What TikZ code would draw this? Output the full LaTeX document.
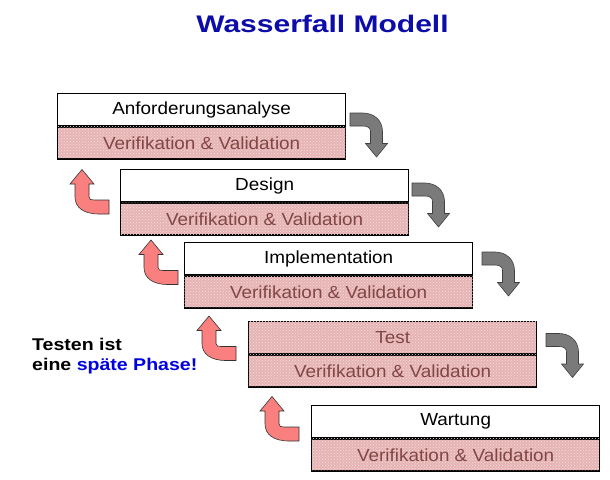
\documentclass[tikz,border=0pt]{standalone}
\usepackage{fontspec}
\setmainfont{Liberation Sans}
\newfontfamily\boxfont[FakeStretch=1.08]{Liberation Sans}
\newfontfamily\headfont[FakeStretch=1.25]{Liberation Sans}
\newfontfamily\notefont[FakeStretch=1.15]{Liberation Sans}
\usetikzlibrary{patterns}

\definecolor{titleblue}{RGB}{12,12,170}
\definecolor{phaseblue}{RGB}{0,0,225}
\definecolor{vvpink}{RGB}{230,180,180}
\definecolor{vvtext}{RGB}{130,70,70}
\definecolor{arrowgray}{RGB}{122,122,122}
\definecolor{arrowsalmon}{RGB}{250,128,128}

\tikzset{
  phasebox/.style={draw=black, line width=1.3pt, minimum width=288pt,
    minimum height=32pt, inner sep=0pt, anchor=north west,
    font=\boxfont\fontsize{17.5}{20}\selectfont},
  vvbox/.style={phasebox, fill=vvpink, text=vvtext,
    postaction={pattern=crosshatch dots, pattern color=white!55!vvpink}},
  % grey arrow: runs right, then bends down to the next phase
  nextarrow/.pic={
    \path[fill=arrowgray, draw=black!75, line width=0.6pt]
      (0,-6.5) -- (13,-6.5) .. controls (23,-6.5) and (32.5,0) .. (32.5,12)
      -- (32.5,24) -- (37.5,24) -- (26.5,37.5) -- (15.5,24) -- (20.5,24)
      -- (20.5,12) .. controls (20.5,8.5) and (18,6.5) .. (13,6.5)
      -- (0,6.5) -- cycle;
  },
  % salmon arrow: runs left, then bends up to the previous phase
  backarrow/.pic={
    \path[fill=arrowsalmon, draw=black!80, line width=0.6pt]
      (0,7) -- (-10,7) .. controls (-26,7) and (-34,0) .. (-34,-10)
      -- (-34,-23) -- (-39,-23) -- (-27,-37.5) -- (-15,-23) -- (-20,-23)
      -- (-20,-10) .. controls (-20,-7.5) and (-18,-7) .. (-15,-7)
      -- (0,-7) -- cycle;
  }
}

\begin{document}
\begin{tikzpicture}[x=1pt, y=-1pt]
\useasboundingbox[fill=white] (0,0) rectangle (610,479);

% title
\node[anchor=base, text=titleblue, font=\headfont\bfseries\fontsize{24}{28}\selectfont]
  (title) at (322.5,32) {Wasserfall Modell};

% phases: name on top, verification & validation below
\node[phasebox] (p1) at (57,93) {Anforderungsanalyse};
\node[vvbox, anchor=north west] (v1) at (p1.south west) {Verifikation \& Validation};

\node[phasebox] (p2) at (120,169) {Design};
\node[vvbox, anchor=north west] (v2) at (p2.south west) {Verifikation \& Validation};

\node[phasebox] (p3) at (184,242) {Implementation};
\node[vvbox, anchor=north west] (v3) at (p3.south west) {Verifikation \& Validation};

\node[vvbox] (p4) at (248,321) {Test};
\node[vvbox, anchor=north west] (v4) at (p4.south west) {Verifikation \& Validation};

\node[phasebox] (p5) at (311,405) {Wartung};
\node[vvbox, anchor=north west] (v5) at (p5.south west) {Verifikation \& Validation};

% forward arrows
\pic at (350,119.5) {nextarrow};
\pic at (412,189.5) {nextarrow};
\pic at (482,258.5) {nextarrow};
\pic at (546,340) {nextarrow};

% feedback arrows
\pic at (109,207) {backarrow};
\pic at (178,277.5) {backarrow};
\pic at (236,353.5) {backarrow};
\pic at (299,434) {backarrow};

% remark
\node[anchor=base west, inner sep=0pt, font=\notefont\bfseries\fontsize{17}{20}\selectfont]
  (note1) at (32,350) {Testen ist};
\node[anchor=base west, inner sep=0pt, font=\notefont\bfseries\fontsize{17}{20}\selectfont]
  (note2) at (32,370) {eine \textcolor{phaseblue}{späte Phase!}};
\end{tikzpicture}
\end{document}
